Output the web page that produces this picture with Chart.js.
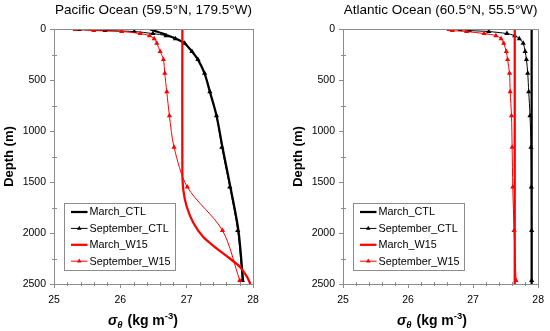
<!DOCTYPE html>
<html>
<head>
<meta charset="utf-8">
<script src="https://cdn.jsdelivr.net/npm/chart.js@4.4.0/dist/chart.umd.min.js"></script>
<style>
  body { margin: 0; background: #fff; }
  .wrap { display: flex; width: 550px; height: 331px; }
  .cell { width: 275px; height: 331px; }
</style>
</head>
<body>
<div class="wrap">
  <div class="cell"><canvas id="pacific" width="275" height="331"></canvas></div>
  <div class="cell"><canvas id="atlantic" width="275" height="331"></canvas></div>
</div>
<script>
// depth profiles of potential density

const seriesNames = ['March_CTL', 'September_CTL', 'March_W15', 'September_W15'];
const xTicks = [25, 26, 27, 28];
const yTicks = [0, 500, 1000, 1500, 2000, 2500];

// model levels (m) used by most profiles
const depthLevels = [5, 15, 25, 45, 65, 95, 140, 220, 300, 435, 615, 850, 1160, 1550, 1975, 2465];

// Pacific Ocean (59.5N, 179.5W)
const pacMarchCtl = [26.45, 26.50, 26.55, 26.64, 26.72, 26.84, 26.97, 27.08, 27.17, 27.27, 27.35, 27.45, 27.54, 27.66, 27.78, 27.85];
const pacSeptCtl  = [25.38, 25.77, 26.21, 26.49, 26.69, 26.83, 26.97, 27.08, 27.17, 27.27, 27.35, 27.45, 27.53, 27.65, 27.77, 27.84];
const pacMarchW15Depth = [5, 1400, 1580, 1740, 1900, 2040, 2150, 2250, 2330, 2430, 2500];
const pacMarchW15 = [26.935, 26.935, 26.95, 27.00, 27.10, 27.25, 27.45, 27.65, 27.80, 27.91, 27.96];
const pacSeptW15  = [25.32, 25.60, 26.02, 26.30, 26.44, 26.51, 26.55, 26.60, 26.65, 26.67, 26.70, 26.74, 26.81, 27.01, 27.54, 27.80];

// Atlantic Ocean (60.5N, 55.5W)
const atlMarchDepth = [0, 2500];
const atlMarchCtl = [27.90, 27.90];
const atlSeptCtl  = [26.80, 26.94, 27.24, 27.52, 27.64, 27.71, 27.77, 27.80, 27.82, 27.84, 27.855, 27.875, 27.89, 27.895, 27.90, 27.90];
const atlMarchW15 = [27.64, 27.64];
const atlSeptW15  = [26.63, 26.68, 26.90, 27.17, 27.35, 27.43, 27.47, 27.51, 27.53, 27.56, 27.57, 27.59, 27.60, 27.61, 27.63, 27.66];

const FONT = "'Liberation Sans', Arial, sans-serif";
const frameColor = '#8c8c8c';
Chart.defaults.font.family = FONT;
Chart.defaults.color = '#000';

function profile(sigma, depth) {
    return sigma.map((s, i) => ({ x: s, y: depth[i] }));
}

function thickLine(label, color, data) {
    return { label, data, showLine: true, borderColor: color, backgroundColor: color,
             borderWidth: 2.25, pointRadius: 0, tension: 0.3, borderJoinStyle: 'round' };
}
function markerLine(label, color, data) {
    return { label, data, showLine: true, borderColor: color, backgroundColor: color,
             borderWidth: 1, pointStyle: 'triangle', pointRadius: 3, pointBorderWidth: 0,
             tension: 0.3, marker: true };
}

// frame, minor ticks, axis titles and the boxed legend
const panelDecor = {
    id: 'panelDecor',
    afterDraw(chart) {
        const { ctx, chartArea: a, scales: { x, y } } = chart;
        ctx.save();
        ctx.strokeStyle = frameColor;
        ctx.lineWidth = 1;
        ctx.strokeRect(Math.round(a.left) + 0.5, Math.round(a.top) + 0.5,
                       Math.round(a.right - a.left), Math.round(a.bottom - a.top));

        // minor ticks (cross the axis)
        ctx.beginPath();
        for (let v = 25.2; v < 27.95; v += 0.2) {
            if (Math.abs(v - Math.round(v)) < 0.01) continue;
            const px = Math.round(x.getPixelForValue(v)) + 0.5;
            ctx.moveTo(px, a.bottom - 2); ctx.lineTo(px, a.bottom + 2);
        }
        for (let v = 250; v < 2500; v += 500) {
            const py = Math.round(y.getPixelForValue(v)) + 0.5;
            ctx.moveTo(a.left - 2, py); ctx.lineTo(a.left + 3, py);
        }
        ctx.stroke();

        // y title
        ctx.fillStyle = '#000';
        ctx.save();
        ctx.translate(a.left - 45, (a.top + a.bottom) / 2);
        ctx.rotate(-Math.PI / 2);
        ctx.font = 'bold 13px ' + FONT;
        ctx.textAlign = 'center';
        ctx.textBaseline = 'middle';
        ctx.fillText('Depth (m)', 0, 0);
        ctx.restore();

        // x title: sigma_theta (kg m^-3)
        const parts = [
            { t: 'σ', f: 'italic bold 14px ' + FONT, dy: 0 },
            { t: 'θ', f: 'italic bold 9.5px ' + FONT, dy: 3 },
            { t: ' (kg m', f: 'bold 14px ' + FONT, dy: 0 },
            { t: '-3', f: 'bold 9.5px ' + FONT, dy: -6 },
            { t: ')', f: 'bold 14px ' + FONT, dy: 0 }
        ];
        let tx = a.left + 54;
        const base = 324.5;
        ctx.textAlign = 'left';
        ctx.textBaseline = 'alphabetic';
        parts.forEach(p => {
            ctx.font = p.f;
            ctx.fillText(p.t, tx, base + p.dy);
            tx += ctx.measureText(p.t).width + (p.t === 'θ' ? 1 : 0);
        });

        // legend
        const bx = Math.round(a.left + 10) + 0.5, by = 203.5, bw = 111, bh = 67;
        ctx.fillStyle = '#fff';
        ctx.fillRect(bx, by, bw, bh);
        ctx.strokeStyle = frameColor;
        ctx.strokeRect(bx, by, bw, bh);
        ctx.font = '10.8px ' + FONT;
        ctx.textBaseline = 'middle';
        chart.data.datasets.forEach((ds, i) => {
            const ry = 212 + i * 16.4;
            const lx = bx + 6.5;
            ctx.strokeStyle = ds.borderColor;
            ctx.lineWidth = ds.marker ? 1 : 2.25;
            ctx.beginPath();
            ctx.moveTo(lx, ry); ctx.lineTo(lx + 16.5, ry);
            ctx.stroke();
            if (ds.marker) {
                const cx = lx + 8.25, r = 2.6;
                ctx.fillStyle = ds.borderColor;
                ctx.beginPath();
                ctx.moveTo(cx, ry - r);
                ctx.lineTo(cx + r * 0.866, ry + r * 0.5);
                ctx.lineTo(cx - r * 0.866, ry + r * 0.5);
                ctx.closePath();
                ctx.fill();
            }
            ctx.fillStyle = '#000';
            ctx.fillText(ds.label, lx + 18.5, ry + 0.5);
        });
        ctx.restore();
    }
};

function makePanel(id, title, datasets, lay) {
    return new Chart(document.getElementById(id), {
        type: 'scatter',
        data: { datasets },
        options: {
            responsive: false,
            devicePixelRatio: 1,
            animation: false,
            layout: { padding: { left: 0, right: lay.padR, top: 0, bottom: 0 } },
            plugins: {
                legend: { display: false },
                tooltip: { enabled: false },
                title: { display: true, text: title, fullSize: false, color: '#000',
                         font: { size: 13.5, weight: 'normal' }, padding: { top: 2.4, bottom: 10.4 } }
            },
            scales: {
                x: {
                    type: 'linear', min: 25, max: 28,
                    afterBuildTicks: s => { s.ticks = xTicks.map(v => ({ value: v })); },
                    afterFit: s => { s.height = 47; },
                    ticks: { font: { size: 10.5 }, padding: 6, color: '#000', callback: v => String(v) },
                    grid: { drawOnChartArea: false, tickLength: 4, color: frameColor },
                    border: { color: frameColor }
                },
                y: {
                    type: 'linear', reverse: true, min: 0, max: 2500,
                    afterBuildTicks: s => { s.ticks = yTicks.map(v => ({ value: v })); },
                    afterFit: s => { s.width = lay.yW; },
                    ticks: { font: { size: 10.5 }, padding: 4, color: '#000', callback: v => String(v) },
                    grid: { drawOnChartArea: false, tickLength: 4, color: frameColor },
                    border: { color: frameColor }
                }
            }
        },
        plugins: [panelDecor]
    });
}

function withOrder(list) {
    // Excel draws later series on top
    list.forEach((d, i) => { d.order = list.length - i; });
    return list;
}

makePanel('pacific', 'Pacific Ocean (59.5°N, 179.5°W)', withOrder([
    thickLine(seriesNames[0], '#000000', profile(pacMarchCtl, depthLevels)),
    markerLine(seriesNames[1], '#000000', profile(pacSeptCtl, depthLevels)),
    thickLine(seriesNames[2], '#ff0000', profile(pacMarchW15, pacMarchW15Depth)),
    markerLine(seriesNames[3], '#ff0000', profile(pacSeptW15, depthLevels))
]), { yW: 54, padR: 22 });

makePanel('atlantic', 'Atlantic Ocean (60.5°N, 55.5°W)', withOrder([
    thickLine(seriesNames[0], '#000000', profile(atlMarchCtl, atlMarchDepth)),
    markerLine(seriesNames[1], '#000000', profile(atlSeptCtl, depthLevels)),
    thickLine(seriesNames[2], '#ff0000', profile(atlMarchW15, atlMarchDepth)),
    markerLine(seriesNames[3], '#ff0000', profile(atlSeptW15, depthLevels))
]), { yW: 68, padR: 9 });
</script>
</body>
</html>
